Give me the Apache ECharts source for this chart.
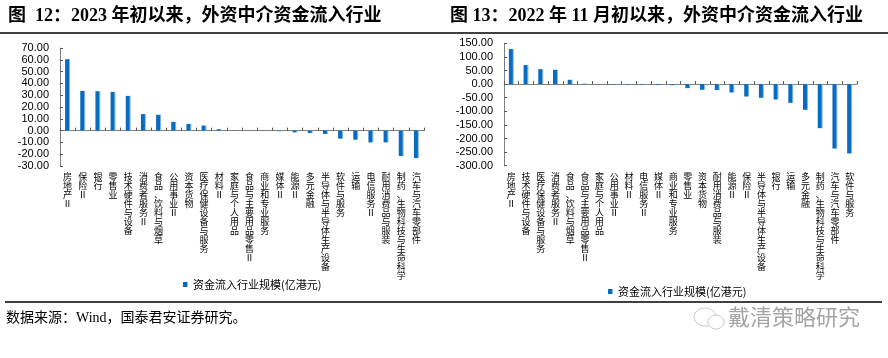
<!DOCTYPE html>
<html><head><meta charset="utf-8">
<script src="https://cdn.jsdelivr.net/npm/echarts@6/dist/echarts.min.js"></script>
<style>html,body{margin:0;padding:0;background:#fff}#c{width:888px;height:358px}</style>
</head><body><div id="c"></div>
<script>
var cats1 = ['房地产Ⅱ','保险Ⅱ','银行','零售业','技术硬件与设备','消费者服务Ⅱ','食品、饮料与烟草','公用事业Ⅱ','资本货物','医疗保健设备与服务','材料Ⅱ','家庭与个人用品','食品与主要用品零售Ⅱ','商业和专业服务','媒体Ⅱ','能源Ⅱ','多元金融','半导体与半导体生产设备','软件与服务','运输','电信服务Ⅱ','耐用消费品与服装','制药、生物科技与生命科学','汽车与汽车零部件'];
var vals1 = [60.5, 33.6, 33.4, 32.8, 29.4, 14.0, 13.4, 7.4, 5.7, 4.3, 1.2, 0.2, 0.1, -0.2, -0.5, -1.5, -2.0, -2.8, -6.8, -7.7, -10.0, -10.0, -21.6, -23.3];
var cats2 = ['房地产Ⅱ','技术硬件与设备','医疗保健设备与服务','消费者服务Ⅱ','食品、饮料与烟草','食品与主要用品零售Ⅱ','家庭与个人用品','公用事业Ⅱ','材料Ⅱ','电信服务Ⅱ','媒体Ⅱ','商业和专业服务','零售业','资本货物','耐用消费品与服装','能源Ⅱ','保险Ⅱ','半导体与半导体生产设备','银行','运输','多元金融','制药、生物科技与生命科学','汽车与汽车零部件','软件与服务'];
var vals2 = [128.7, 69.9, 55.0, 52.6, 15.8, 1.5, -1.0, -1.5, -2.0, -2.5, -3.0, -4.0, -14.7, -21.0, -22.0, -30.8, -45.6, -50.4, -56.6, -68.8, -94.5, -162, -237, -255];
var seriesName = '资金流入行业规模(亿港元)';
var title1 = '图  12：2023 年初以来，外资中介资金流入行业';
var title2 = '图 13：2022 年 11 月初以来，外资中介资金流入行业';
var source = '数据来源：Wind，国泰君安证券研究。';
var watermark = '戴清策略研究';

var chart = echarts.init(document.getElementById('c'), null, {renderer:'canvas'});
var cjk = '"Noto Sans CJK SC", sans-serif';
var barColor = new echarts.graphic.LinearGradient(0,0,1,0,[
  {offset:0,color:'#0a6cc0'},{offset:0.7,color:'#0a6cc0'},{offset:0.78,color:'#5d9fdc'},{offset:1,color:'#a7c9ec'}]);
function vert(v){ return v.split('').join('\n'); }
function xAxisCfg(gi, cats, margin){
  return {type:'category', gridIndex:gi, data:cats, boundaryGap:true,
    axisLine:{onZero:true, lineStyle:{color:'#7f7f7f', width:1}},
    axisTick:{show:true, inside:true, length:3, lineStyle:{color:'#555'}},
    axisLabel:{interval:0, margin:margin, formatter:vert, fontSize:9, lineHeight:9, color:'#000', fontFamily:cjk, verticalAlign:'top'},
    splitLine:{show:false}};
}
function yAxisCfg(gi, min, max, interval){
  return {type:'value', gridIndex:gi, min:min, max:max, interval:interval,
    axisLine:{show:true, lineStyle:{color:'#7f7f7f'}},
    axisTick:{show:true, inside:true, length:3, lineStyle:{color:'#555'}},
    axisLabel:{formatter:function(v){return v.toFixed(2);}, fontSize:11, color:'#000', fontFamily:'"Liberation Sans", Arial, sans-serif', margin:11},
    splitLine:{show:false}};
}
chart.setOption({
  animation:false,
  backgroundColor:'#fff',
  grid:[{left:60, top:48, width:364, height:118},
        {left:504, top:43.3, width:353, height:122.4}],
  xAxis:[xAxisCfg(0, cats1, 5.7), xAxisCfg(1, cats2, 6)],
  yAxis:[yAxisCfg(0, -30, 70, 10), yAxisCfg(1, -300, 150, 50)],
  legend:[
    {data:[seriesName], left:178, top:274, itemWidth:5, itemHeight:5, icon:'rect', itemGap:4,
     textStyle:{fontSize:11, fontFamily:cjk, color:'#000'}},
    {data:[seriesName], left:603, top:281, itemWidth:5, itemHeight:5, icon:'rect', itemGap:4,
     textStyle:{fontSize:11, fontFamily:cjk, color:'#000'}}
  ],
  series:[
    {name:seriesName, type:'bar', xAxisIndex:0, yAxisIndex:0, data:vals1, barWidth:5, itemStyle:{color:barColor}},
    {name:seriesName, type:'bar', xAxisIndex:1, yAxisIndex:1, data:vals2, barWidth:5, itemStyle:{color:barColor}}
  ],
  graphic:[
    {type:'text', left:8, top:7, style:{text:title1, font:'bold 18px "Liberation Serif", "Noto Sans CJK SC", serif', fill:'#000'}},
    {type:'text', left:450, top:7, style:{text:title2, font:'bold 18px "Liberation Serif", "Noto Sans CJK SC", serif', fill:'#000'}},
    {type:'line', shape:{x1:0, y1:33, x2:888, y2:33}, style:{stroke:'#000', lineWidth:1.5}},
    {type:'line', shape:{x1:5, y1:302, x2:882, y2:302}, style:{stroke:'#000', lineWidth:1.5}},
    {type:'text', left:6, top:311, style:{text:source, font:'14px "Liberation Serif", "Noto Sans CJK SC", serif', fill:'#000'}},
    {type:'text', left:728, top:306, style:{text:watermark, font:'22px "Noto Sans CJK SC", sans-serif', fill:'#9a9a9a', opacity:0.9}},
    {type:'ellipse', shape:{cx:705, cy:317, rx:11, ry:9}, style:{fill:'none', stroke:'#c8c8c8', lineWidth:1}},
    {type:'ellipse', shape:{cx:716, cy:322, rx:8, ry:7}, style:{fill:'#fff', stroke:'#c8c8c8', lineWidth:1}}
  ]
});
</script></body></html>
